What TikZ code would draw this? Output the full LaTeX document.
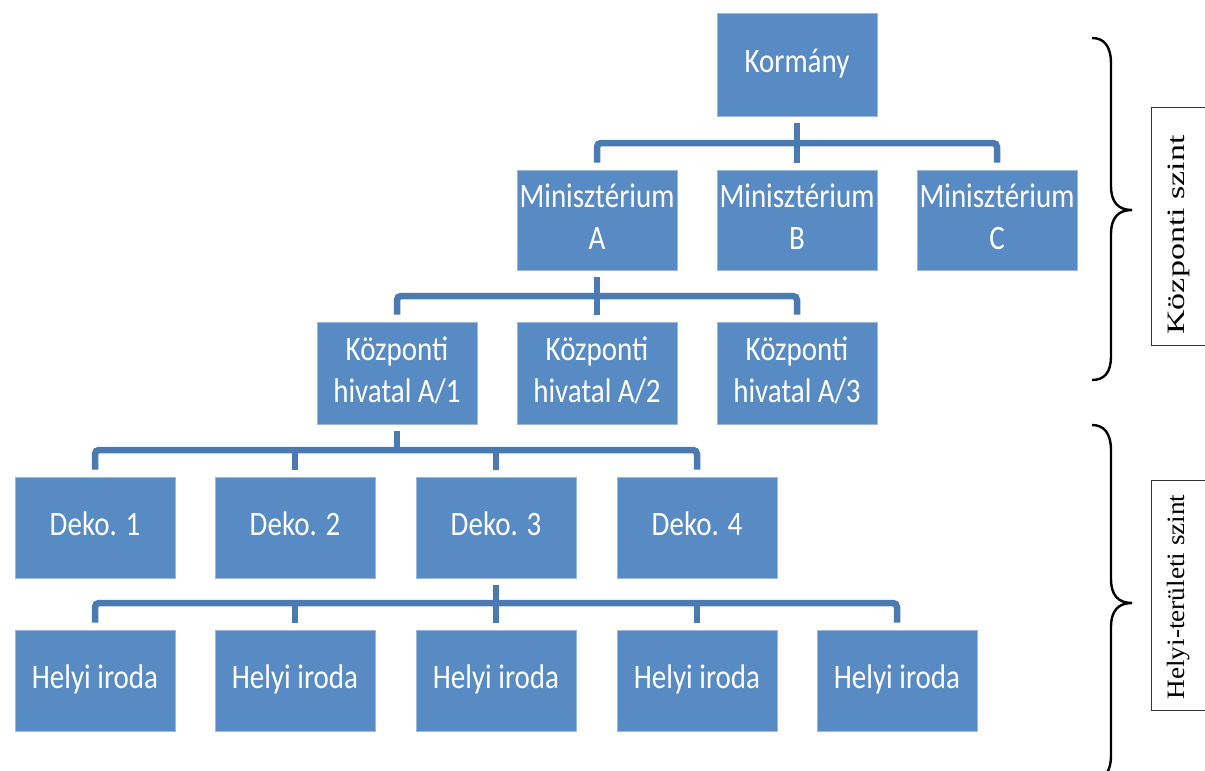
\documentclass[tikz,border=0pt]{standalone}
\usepackage{fontspec}
\setmainfont{Carlito}
\newfontfamily\lblfont{Liberation Serif}
\definecolor{boxblue}{HTML}{588BC4}
\definecolor{lineblue}{HTML}{4A7AB0}
\newcommand{\bt}[1]{\scalebox{1}[1.18]{\begin{tabular}{@{}c@{}}#1\end{tabular}}}
\newcommand{\lt}[2]{\scalebox{#1}[1]{#2}}
\tikzset{
  box/.style={rectangle, fill=boxblue, draw=boxblue!60!white, line width=0.8pt,
    minimum width=160pt, minimum height=100pt, inner sep=0pt, text=white,
    font=\fontsize{29}{35.5}\selectfont},
  conn/.style={draw=lineblue, line width=6.5pt},
  bracestyle/.style={draw=black, line width=2.4pt},
  lblbox/.style={draw=black!80, line width=0.9pt},
  lbl/.style={rotate=90, font=\lblfont\fontsize{25}{30}\selectfont, inner sep=0pt}
}
\begin{document}
\begin{tikzpicture}[x=1pt,y=-1pt]
\useasboundingbox (0,0) rectangle (1205,771);
\clip (0,0) rectangle (1205,771);
% boxes
\node[box, minimum height=103pt] (K) at (797,64.5) {\bt{Kormány}};
\node[box] (MA) at (597,220) {\bt{Minisztérium\\A}};
\node[box] (MB) at (797,220) {\bt{Minisztérium\\B}};
\node[box] (MC) at (997,220) {\bt{Minisztérium\\C}};
\node[box, minimum height=102pt] (H1) at (397,373) {\bt{Központi\\hivatal A/1}};
\node[box, minimum height=102pt] (H2) at (597,373) {\bt{Központi\\hivatal A/2}};
\node[box, minimum height=102pt] (H3) at (797,373) {\bt{Központi\\hivatal A/3}};
\node[box, minimum height=101pt] (D1) at (95,527.5) {\bt{Deko. 1}};
\node[box, minimum height=101pt] (D2) at (295,527.5) {\bt{Deko. 2}};
\node[box, minimum height=101pt] (D3) at (496,527.5) {\bt{Deko. 3}};
\node[box, minimum height=101pt] (D4) at (697,527.5) {\bt{Deko. 4}};
\node[box, minimum height=101pt] (L1) at (95,680.5) {\bt{Helyi iroda}};
\node[box, minimum height=101pt] (L2) at (295,680.5) {\bt{Helyi iroda}};
\node[box, minimum height=101pt] (L3) at (496,680.5) {\bt{Helyi iroda}};
\node[box, minimum height=101pt] (L4) at (697,680.5) {\bt{Helyi iroda}};
\node[box, minimum height=101pt] (L5) at (897,680.5) {\bt{Helyi iroda}};
% connectors: Kormány -> Minisztériumok
\draw[conn] ([yshift=-7pt]K.south) -- (K.south |- 0,143);
\draw[conn, rounded corners=4pt] ([yshift=7pt]MA.north) -- (MA.north |- 0,143) -- (MC.north |- 0,143) -- ([yshift=7pt]MC.north);
\draw[conn] (MB.north |- 0,143) -- ([yshift=7pt]MB.north);
% Minisztérium A -> Központi hivatalok
\draw[conn] ([yshift=-7pt]MA.south) -- (MA.south |- 0,296);
\draw[conn, rounded corners=4pt] ([yshift=7pt]H1.north) -- (H1.north |- 0,296) -- (H3.north |- 0,296) -- ([yshift=7pt]H3.north);
\draw[conn] (H2.north |- 0,296) -- ([yshift=7pt]H2.north);
% Központi hivatal A/1 -> Deko
\draw[conn] ([yshift=-7pt]H1.south) -- (H1.south |- 0,450);
\draw[conn, rounded corners=4pt] ([yshift=7pt]D1.north) -- (D1.north |- 0,450) -- (D4.north |- 0,450) -- ([yshift=7pt]D4.north);
\draw[conn] (D2.north |- 0,450) -- ([yshift=7pt]D2.north);
\draw[conn] (D3.north |- 0,450) -- ([yshift=7pt]D3.north);
% Deko 3 -> Helyi irodák
\draw[conn] ([yshift=-7pt]D3.south) -- (D3.south |- 0,603);
\draw[conn, rounded corners=4pt] ([yshift=7pt]L1.north) -- (L1.north |- 0,603) -- (L5.north |- 0,603) -- ([yshift=7pt]L5.north);
\draw[conn] (L2.north |- 0,603) -- ([yshift=7pt]L2.north);
\draw[conn] (L3.north |- 0,603) -- ([yshift=7pt]L3.north);
\draw[conn] (L4.north |- 0,603) -- ([yshift=7pt]L4.north);
% braces
\draw[bracestyle] (1092,38) .. controls (1104,38) and (1111,46) .. (1111,64)
  -- (1111,186) .. controls (1111,202) and (1118,210) .. (1132,210)
  .. controls (1118,210) and (1111,218) .. (1111,234)
  -- (1111,356) .. controls (1111,373) and (1104,380) .. (1092,380);
\draw[bracestyle] (1092,425) .. controls (1104,425) and (1111,433) .. (1111,451)
  -- (1111,579) .. controls (1111,595) and (1118,603) .. (1132,603)
  .. controls (1118,603) and (1111,611) .. (1111,627)
  -- (1111,755) .. controls (1111,772) and (1104,781) .. (1092,781);
% level labels
\draw[lblbox] (1151,107) rectangle (1215,345);
\node[lbl] (t1) at (1179,235) {\lt{1.36}{Központi szint}};
\draw[lblbox] (1151,480) rectangle (1215,710);
\node[lbl] (t2) at (1179,597) {\lt{1.09}{Helyi-területi szint}};
\end{tikzpicture}
\end{document}
